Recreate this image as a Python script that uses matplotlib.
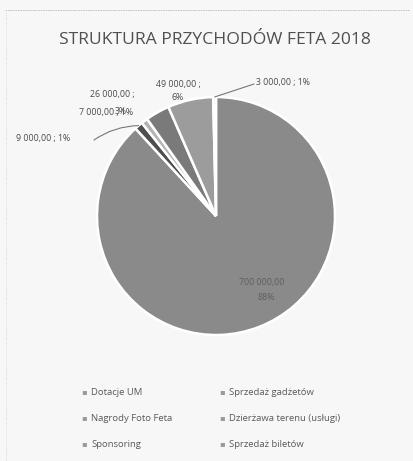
import numpy as np
import matplotlib
matplotlib.use("Agg")
import matplotlib.pyplot as plt

categories = ["Dotacje UM", "Sprzedaż gadżetów", "Nagrody Foto Feta",
              "Dzierżawa terenu (usługi)", "Sponsoring", "Sprzedaż biletów"]
values = [700000, 9000, 7000, 26000, 49000, 3000]
value_labels = ["700 000,00 ;", "9 000,00 ;", "7 000,00 ;", "26 000,00 ;", "49 000,00 ;", "3 000,00 ;"]
pct_labels = ["88%", "1%", "1%", "3%", "6%", "1%"]
title = "STRUKTURA PRZYCHODÓW FETA 2018"

colors = ["#8a8a8a", "#4e4e4e", "#b4b4b4", "#7a7a7a", "#9c9c9c", "#e6e6e6"]

W, H = 413, 461
fig = plt.figure(figsize=(W / 100, H / 100), dpi=100)
fig.patch.set_facecolor("#f7f7f7")
FONT = "Open Sans"
TXT = "#4a4a4a"

def px(x, y):
    return (x / W, 1 - y / H)

# faint scanned border
fig.add_artist(plt.Line2D([5 / W, 410 / W], [1 - 10 / H, 1 - 10 / H], color="#bbbbbb", lw=0.6, ls=(0, (2, 1))))
fig.add_artist(plt.Line2D([6 / W, 6 / W], [1 - 10 / H, 0], color="#cccccc", lw=0.6, ls=(0, (1, 2))))

cx, cy, r = 216, 216, 119
ax = fig.add_axes([(cx - r) / W, 1 - (cy + r) / H, 2 * r / W, 2 * r / H])
ax.set_facecolor("none")
wedges, _ = ax.pie(values, colors=colors, startangle=90, counterclock=False, radius=1,
                   wedgeprops=dict(edgecolor="white", linewidth=1.8))
ax.set_xlim(-1, 1)
ax.set_ylim(-1, 1)
ax.set_aspect("equal")
ax.axis("off")

def wedge_point(i, rad=1.0):
    w = wedges[i]
    a = np.deg2rad((w.theta1 + w.theta2) / 2)
    return rad * np.cos(a), rad * np.sin(a)

fig.text(*px(215, 40), title, ha="center", va="center", fontsize=12.6, color="#505050", family=FONT)

fs = 6.3
# big slice label inside
fig.text(*px(262, 283), value_labels[0][:-2], ha="center", va="center", fontsize=fs, color="#5e5e5e", family=FONT)
fig.text(*px(266, 297), pct_labels[0], ha="center", va="center", fontsize=fs, color="#5e5e5e", family=FONT)

# 3 000
fig.text(*px(256, 83), value_labels[5] + " " + pct_labels[5], ha="left", va="center", fontsize=fs, color=TXT, family=FONT)
ax.annotate("", xy=wedge_point(5, 1.0), xycoords="data", xytext=px(254, 84), textcoords="figure fraction",
            arrowprops=dict(arrowstyle="-", color="#777777", lw=0.8, shrinkA=0, shrinkB=0))
# 49 000
fig.text(*px(178, 84), value_labels[4], ha="center", va="center", fontsize=fs, color=TXT, family=FONT)
fig.text(*px(178, 97), pct_labels[4], ha="center", va="center", fontsize=fs, color=TXT, family=FONT)
# 26 000 (its second line overlaps the 7 000 label, as in the original)
fig.text(*px(112, 95), value_labels[3], ha="center", va="center", fontsize=fs, color=TXT, family=FONT)
fig.text(*px(121, 112), pct_labels[3], ha="center", va="center", fontsize=fs, color=TXT, family=FONT)
# 7 000
fig.text(*px(106, 112), value_labels[2] + " " + pct_labels[2], ha="center", va="center", fontsize=fs, color=TXT, family=FONT)
# 9 000
fig.text(*px(16, 139), value_labels[1] + " " + pct_labels[1], ha="left", va="center", fontsize=fs, color=TXT, family=FONT)
ax.annotate("", xy=wedge_point(1, 1.0), xycoords="data", xytext=px(94, 140), textcoords="figure fraction",
            arrowprops=dict(arrowstyle="-", color="#777777", lw=0.8, shrinkA=0, shrinkB=0,
                            connectionstyle="arc3,rad=-0.15"))

# legend
leg_pos = [(84, 392), (222, 392), (84, 418), (222, 418), (84, 444), (222, 444)]
for (lx, ly), name in zip(leg_pos, categories):
    fig.text(*px(lx, ly), "\u25aa", ha="center", va="center", fontsize=6, color="#9a9a9a", family="DejaVu Sans")
    fig.text(*px(lx + 7, ly), name, ha="left", va="center", fontsize=6.8, color="#5a5a5a", family=FONT)

fig.savefig("out.png", dpi=100, facecolor=fig.get_facecolor())
